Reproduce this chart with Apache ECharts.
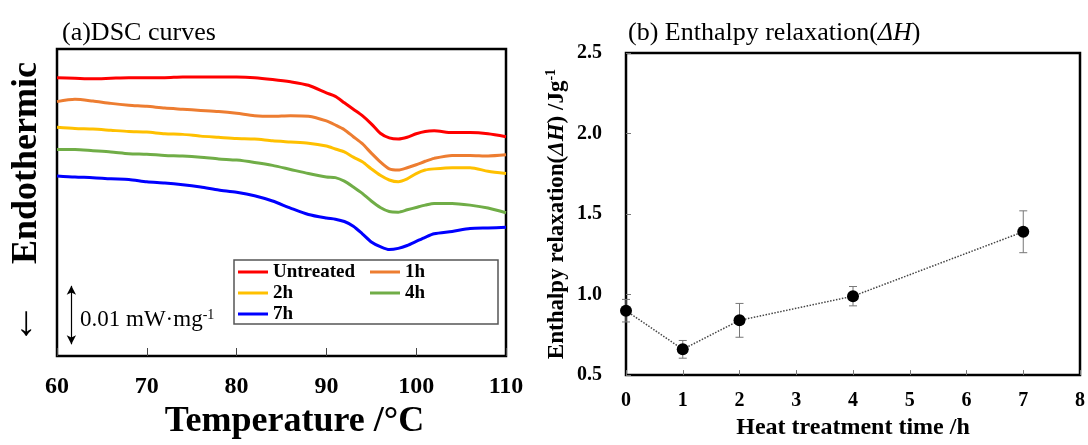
<!DOCTYPE html>
<html>
<head>
<meta charset="utf-8">
<script src="https://cdn.jsdelivr.net/npm/echarts@6/dist/echarts.min.js"></script>
<style>
  html, body { margin: 0; padding: 0; background: #fff; }
  #chart { width: 1088px; height: 445px; }
</style>
</head>
<body>
<div id="chart"></div>
<script>
// (a) DSC curves: heat flow offset in µW·mg⁻¹ against temperature (°C)
const temps = [60, 62, 64, 66, 68, 70, 72, 74, 76, 78, 80, 82, 84, 86, 88, 90, 91, 92, 93, 94, 95, 96, 97, 98, 99, 100, 101, 102, 104, 106, 108, 110];
const untreated = [47.6, 47.5, 47.4, 47.5, 47.6, 47.6, 47.6, 47.7, 47.7, 47.7, 47.7, 47.6, 47.3, 46.9, 46.3, 45.0, 44.4, 43.3, 42.2, 41.1, 39.7, 38.1, 37.3, 37.1, 37.4, 38.0, 38.4, 38.5, 38.2, 38.2, 38.0, 37.5];
const heat1h = [43.5, 43.9, 43.6, 43.2, 42.9, 42.7, 42.4, 42.2, 42.0, 41.8, 41.5, 41.1, 41.0, 41.1, 41.0, 40.2, 39.5, 38.7, 37.5, 36.3, 34.7, 33.2, 32.0, 31.8, 32.2, 32.7, 33.3, 33.8, 34.3, 34.3, 34.2, 34.4];
const heat2h = [39.1, 38.9, 38.8, 38.6, 38.4, 38.3, 38.0, 37.9, 37.6, 37.4, 37.2, 37.1, 36.8, 36.6, 36.4, 35.9, 35.4, 34.9, 34.0, 33.2, 32.0, 30.9, 30.1, 29.8, 30.3, 31.2, 31.8, 32.0, 32.2, 32.2, 31.6, 31.2];
const heat4h = [35.3, 35.3, 35.1, 34.9, 34.6, 34.5, 34.3, 34.2, 34.0, 33.7, 33.5, 33.1, 32.6, 31.9, 31.2, 30.6, 30.5, 29.9, 28.9, 27.8, 26.5, 25.4, 24.7, 24.6, 25.0, 25.4, 25.8, 26.1, 26.1, 25.8, 25.3, 24.5];
const heat7h = [30.8, 30.6, 30.5, 30.3, 30.2, 29.8, 29.6, 29.3, 28.9, 28.4, 28.0, 27.4, 26.5, 25.3, 24.2, 23.6, 23.4, 23.0, 22.2, 20.9, 19.5, 18.7, 18.2, 18.4, 18.9, 19.6, 20.3, 20.9, 21.3, 21.8, 21.9, 22.0];
const curveNames = ['Untreated', '1h', '2h', '4h', '7h'];
const curveColors = ['#ff0000', '#ed7d31', '#ffc000', '#70ad47', '#0000ff'];
const tempTicks = [60, 70, 80, 90, 100, 110];

// Scale bar: 0.01 mW·mg⁻¹ = 10 µW·mg⁻¹
const scaleBarTemp = 61.6;
const scaleBarFrom = 2;
const scaleBarSpan = 10;

// (b) Enthalpy relaxation ΔH (J·g⁻¹) against heat treatment time (h)
const hours = [0, 1, 2, 4, 7];
const deltaH = [0.90, 0.66, 0.84, 0.99, 1.39];
const deltaHErr = [0.07, 0.055, 0.105, 0.06, 0.13];
const hourTicks = [0, 1, 2, 3, 4, 5, 6, 7, 8];
const dhTicks = [0.5, 1.0, 1.5, 2.0, 2.5];

const serif = "'Liberation Serif', 'DejaVu Serif', serif";
const curveSets = [untreated, heat1h, heat2h, heat4h, heat7h];

const chart = echarts.init(document.getElementById('chart'), null, { renderer: 'canvas' });

const dscSeries = curveSets.map((vals, k) => ({
  name: curveNames[k],
  type: 'line',
  xAxisIndex: 0,
  yAxisIndex: 0,
  data: temps.map((t, i) => [t, vals[i]]),
  smooth: 0.25,
  symbol: 'none',
  lineStyle: { color: curveColors[k], width: 3 },
  itemStyle: { color: curveColors[k] },
  z: 3
}));

const legendCommon = {
  orient: 'vertical',
  itemWidth: 30,
  itemHeight: 14,
  itemGap: 1,
  icon: 'path://M0,6 L30,6 L30,9 L0,9 Z',
  textStyle: { fontFamily: serif, fontWeight: 'bold', fontSize: 19, color: '#000', lineHeight: 20 },
  selectedMode: false,
  padding: 0
};

const option = {
  animation: false,
  backgroundColor: '#fff',
  title: [
    {
      text: '(a)DSC curves',
      left: 57, top: 15,
      textStyle: { fontFamily: serif, fontWeight: 'normal', fontSize: 26, color: '#000' }
    },
    {
      text: '(b) Enthalpy relaxation({i|ΔH})',
      left: 623, top: 15,
      textStyle: {
        fontFamily: serif, fontWeight: 'normal', fontSize: 26, color: '#000',
        rich: { i: { fontFamily: serif, fontStyle: 'italic', fontSize: 26, color: '#000' } }
      }
    }
  ],
  legend: [
    Object.assign({ data: ['Untreated', '2h', '7h'], left: 238, top: 262 }, legendCommon),
    Object.assign({ data: ['1h', '4h'], left: 370, top: 262 }, legendCommon)
  ],
  grid: [
    { left: 57, top: 49, width: 449, height: 310, show: true, borderColor: '#000', borderWidth: 2.5, backgroundColor: 'transparent' },
    { left: 626, top: 53, width: 455, height: 331, show: true, borderColor: '#000', borderWidth: 2.5, backgroundColor: 'transparent' }
  ],
  xAxis: [
    {
      gridIndex: 0, type: 'value', min: tempTicks[0], max: tempTicks[tempTicks.length - 1], interval: 10,
      name: 'Temperature /°C', nameLocation: 'middle', nameGap: 48,
      nameTextStyle: { fontFamily: serif, fontWeight: 'bold', fontSize: 36, color: '#000', padding: [0, 0, 0, 26] },
      axisLine: { show: false },
      axisTick: { show: true, inside: true, length: 8, lineStyle: { color: '#444', width: 1 } },
      axisLabel: { fontFamily: serif, fontWeight: 'bold', fontSize: 24, color: '#000', margin: 19 },
      splitLine: { show: false }
    },
    {
      gridIndex: 1, type: 'value', min: hourTicks[0], max: hourTicks[hourTicks.length - 1], interval: 1,
      name: 'Heat treatment time /h', nameLocation: 'middle', nameGap: 36,
      nameTextStyle: { fontFamily: serif, fontWeight: 'bold', fontSize: 24, color: '#000' },
      axisLine: { show: false },
      axisTick: { show: true, inside: true, length: 5, lineStyle: { color: '#777', width: 1 } },
      axisLabel: { fontFamily: serif, fontWeight: 'bold', fontSize: 20, color: '#000', margin: 16 },
      splitLine: { show: false }
    }
  ],
  yAxis: [
    {
      gridIndex: 0, type: 'value', min: 0, max: 52.5,
      show: false
    },
    {
      gridIndex: 1, type: 'value', min: dhTicks[0], max: dhTicks[dhTicks.length - 1], interval: 0.5,
      name: 'Enthalpy relaxation({i|ΔH}) /Jg{sup|-1}', nameLocation: 'middle', nameGap: 56, nameRotate: 90,
      nameTextStyle: {
        fontFamily: serif, fontWeight: 'bold', fontSize: 23, color: '#000', lineHeight: 26,
        rich: {
          i: { fontFamily: serif, fontWeight: 'bold', fontStyle: 'italic', fontSize: 23, color: '#000', lineHeight: 26 },
          sup: { fontFamily: serif, fontWeight: 'bold', fontSize: 14, color: '#000', verticalAlign: 'top', lineHeight: 26, padding: [0, 0, 10, 0] }
        }
      },
      axisLine: { show: false },
      axisTick: { show: true, inside: true, length: 5, lineStyle: { color: '#777', width: 1 } },
      axisLabel: {
        fontFamily: serif, fontWeight: 'bold', fontSize: 20, color: '#000', margin: 24,
        formatter: v => v.toFixed(1)
      },
      splitLine: { show: false }
    }
  ],
  graphic: [
    {
      type: 'text', x: 27, y: 163, rotation: Math.PI / 2,
      style: { text: 'Endothermic', font: 'bold 36px ' + serif, fill: '#000', align: 'center', verticalAlign: 'middle' }
    },
    {
      type: 'text', x: 26, y: 324,
      style: { text: '↓', font: '42px ' + serif, fill: '#000', align: 'center', verticalAlign: 'middle' }
    },
    {
      type: 'rect', shape: { x: 234, y: 260, width: 264, height: 64 },
      style: { fill: 'transparent', stroke: '#555', lineWidth: 1.5 }, z: 10
    },
    {
      type: 'text', x: 80, y: 320,
      style: {
        text: '0.01 mW·mg{sup|-1}', font: '23px ' + serif, fill: '#000', align: 'left', verticalAlign: 'middle',
        rich: { sup: { font: '14px ' + serif, fill: '#000', padding: [0, 0, 10, 0] } }
      }
    }
  ],
  series: dscSeries.concat([
    {
      name: 'scale',
      type: 'line',
      xAxisIndex: 0, yAxisIndex: 0,
      data: [],
      symbol: 'none',
      silent: true,
      markLine: {
        silent: true,
        symbol: ['arrow', 'arrow'],
        symbolSize: [7, 9],
        label: { show: false },
        lineStyle: { color: '#000', width: 1.2, type: 'solid' },
        data: [[{ coord: [scaleBarTemp, scaleBarFrom] }, { coord: [scaleBarTemp, scaleBarFrom + scaleBarSpan] }]]
      }
    },
    {
      name: 'errors',
      type: 'custom',
      xAxisIndex: 1, yAxisIndex: 1,
      data: hours.map((h, i) => [h, deltaH[i] - deltaHErr[i], deltaH[i] + deltaHErr[i]]),
      renderItem: function (params, api) {
        const top = api.coord([api.value(0), api.value(2)]);
        const bot = api.coord([api.value(0), api.value(1)]);
        const hw = 4;
        const st = { stroke: '#777', lineWidth: 1 };
        return {
          type: 'group',
          children: [
            { type: 'line', shape: { x1: top[0], y1: top[1], x2: bot[0], y2: bot[1] }, style: st },
            { type: 'line', shape: { x1: top[0] - hw, y1: top[1], x2: top[0] + hw, y2: top[1] }, style: st },
            { type: 'line', shape: { x1: bot[0] - hw, y1: bot[1], x2: bot[0] + hw, y2: bot[1] }, style: st }
          ]
        };
      },
      z: 2
    },
    {
      name: 'ΔH',
      type: 'line',
      xAxisIndex: 1, yAxisIndex: 1,
      data: hours.map((h, i) => [h, deltaH[i]]),
      symbol: 'circle',
      symbolSize: 12,
      itemStyle: { color: '#000' },
      lineStyle: { color: '#444', width: 1.5, type: 'dotted' },
      z: 3
    }
  ])
};

chart.setOption(option);
</script>
</body>
</html>
